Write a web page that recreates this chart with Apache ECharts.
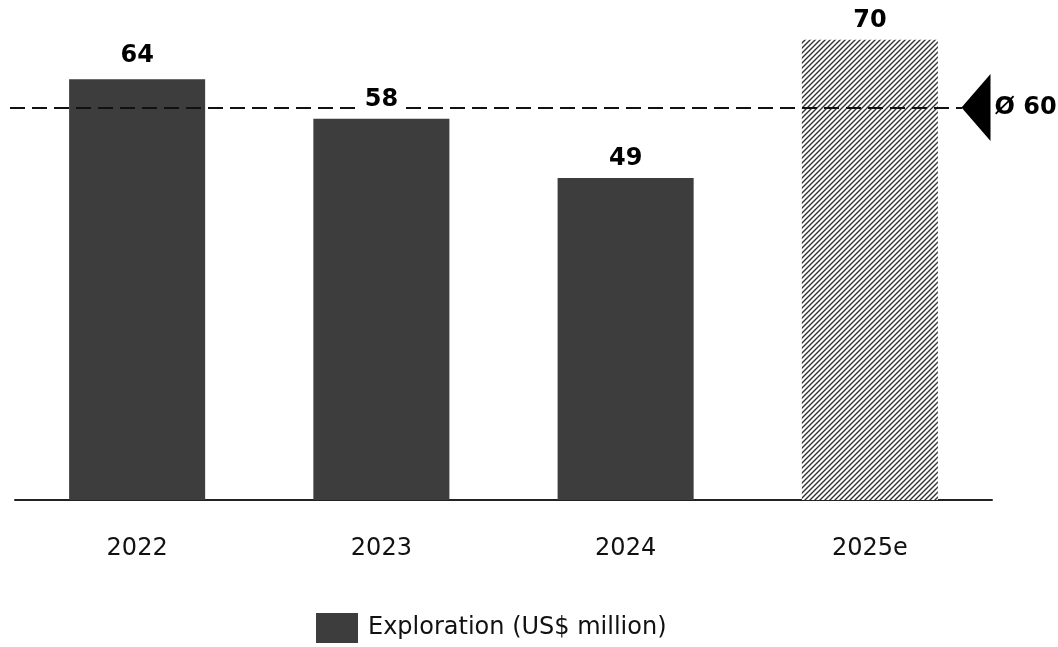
<!DOCTYPE html>
<html>
<head>
<meta charset="utf-8">
<script src="https://cdn.jsdelivr.net/npm/echarts@6/dist/echarts.min.js"></script>
<style>html,body{margin:0;padding:0;background:#fff}#c{width:1058px;height:647px}</style>
</head>
<body>
<div id="c"></div>
<script>
const categories = ['2022', '2023', '2024', '2025e'];
const values = [64, 58, 49, 70];
const estimateFlags = [false, false, false, true];
const averageValue = 59.7;
const averageLabel = 'Ø 60';
const seriesName = 'Exploration (US$ million)';

// per-label spacing tweak (style only)
const labelDistanceOverrides = { 0: 12 };

// hatch pattern tile
const tile = document.createElement('canvas');
tile.width = 5; tile.height = 5;
const tc = tile.getContext('2d');
tc.fillStyle = '#fff'; tc.fillRect(0, 0, 5, 5);
tc.strokeStyle = '#333';
tc.lineWidth = 1.4;
tc.beginPath();
tc.moveTo(-1, 6); tc.lineTo(6, -1);
tc.moveTo(-1, 1); tc.lineTo(1, -1);
tc.moveTo(4, 6); tc.lineTo(6, 4);
tc.stroke();

const FONT = 'DejaVu Sans';
const chart = echarts.init(document.getElementById('c'));
chart.setOption({
  animation: false,
  textStyle: { fontFamily: FONT },
  grid: { left: 15, right: 66, top: 7, bottom: 147 },
  legend: {
    left: 316, top: 613, padding: 0,
    itemWidth: 42, itemHeight: 30,
    icon: 'rect',
    textStyle: { fontFamily: FONT, fontSize: 24, color: '#111', padding: [6, 0, 0, 5] },
    data: [seriesName]
  },
  xAxis: {
    type: 'category',
    data: categories,
    axisLine: { lineStyle: { color: '#222', width: 2 } },
    axisTick: { show: false },
    axisLabel: { fontFamily: FONT, fontSize: 24, color: '#111', margin: 37 }
  },
  yAxis: { type: 'value', min: 0, max: 75, show: false, splitLine: { show: false } },
  series: [{
    name: seriesName,
    type: 'bar',
    barWidth: '55.7%',
    barGap: '-100%',
    z: 2,
    itemStyle: { color: '#3d3d3d' },
    data: values.map((v, i) => estimateFlags[i]
      ? { value: v, itemStyle: { color: { image: tile, repeat: 'repeat' } } }
      : v),
    markLine: {
      silent: true,
      z: 5,
      symbol: ['none', 'none'],
      label: { show: false },
      lineStyle: { color: '#111', width: 2, type: [15, 7] },
      data: [[{ coord: [0, averageValue], x: 10 }, { coord: [3, averageValue], x: 962 }]]
    },
    markPoint: {
      silent: true,
      symbol: 'path://M0,50 L28,0 L28,100 Z',
      symbolSize: [29, 67],
      itemStyle: { color: '#000' },
      label: {
        show: true, position: 'right', distance: 4,
        formatter: averageLabel,
        fontFamily: FONT, fontSize: 24, fontWeight: 'bold', color: '#000',
        padding: [4, 0, 0, 0]
      },
      data: [{ coord: [3, averageValue], x: 976 }]
    }
  }, {
    name: 'labels',
    type: 'bar',
    barWidth: '55.7%',
    barGap: '-100%',
    z: 10,
    silent: true,
    itemStyle: { color: 'rgba(0,0,0,0)' },
    data: values.map((v, i) => labelDistanceOverrides[i] != null
      ? { value: v, label: { distance: labelDistanceOverrides[i] } }
      : v),
    label: {
      show: true, position: 'top', distance: 7,
      fontFamily: FONT, fontSize: 24, fontWeight: 'bold', color: '#000',
      backgroundColor: '#fff', padding: [0, 6]
    }
  }]
});
</script>
</body>
</html>
